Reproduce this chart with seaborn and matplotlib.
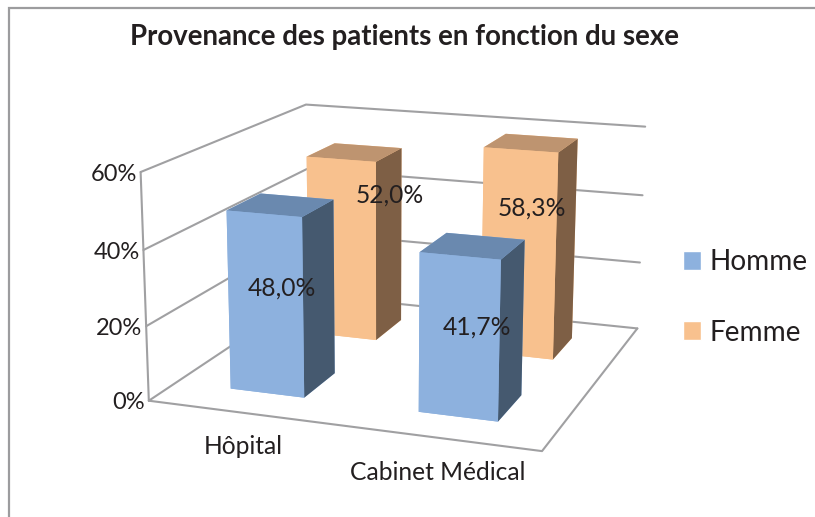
import numpy as np
import pandas as pd
import matplotlib
matplotlib.use("Agg")
import matplotlib.pyplot as plt
from matplotlib.patches import Patch, Rectangle
import seaborn as sns

categories = ["Hôpital", "Cabinet Médical"]
series = ["Homme", "Femme"]
homme = [48.0, 41.7]
femme = [52.0, 58.3]
z_ticks = [0, 20, 40, 60]

front = sns.color_palette(["#8DB1DE", "#F8C18E"])
top = sns.color_palette(["#6A89AF", "#BE9470"])
side = sns.color_palette(["#45596F", "#7E5F45"])
grid_color = "#A0A0A2"
text_color = "#231F20"

sns.set_theme(style="white")
plt.rcParams['font.family'] = ['Lato', 'DejaVu Sans']

df = pd.DataFrame({"categorie": categories, "Homme": homme, "Femme": femme})
df = df.melt(id_vars="categorie", var_name="sexe", value_name="pct")

fig = plt.figure(figsize=(8.15, 5.17), dpi=100)
ax = fig.add_axes([114.2 / 815, -35.12 / 517, 575.26 / 815, 575.26 / 517],
                  projection='3d', computed_zorder=False)
ax.set_xlim(0, 2)
ax.set_ylim(0, 2)
ax.set_zlim(0, 60)
ax.view_init(14.6855, -70.601, -0.2381)
ax.set_proj_type('persp', focal_length=0.5604)
ax.set_box_aspect((1.7414, 1.7661, 1))
ax.set_axis_off()
ax.xaxis.set_visible(False)
ax.yaxis.set_visible(False)
ax.zaxis.set_visible(False)

# walls and floor
for t in z_ticks:
    ax.plot([0, 0, 2], [0, 2, 2], [t, t, t], color=grid_color, lw=1.5, zorder=1)
ax.plot([0, 0], [0, 0], [0, 60], color=grid_color, lw=1.5, zorder=1)
ax.plot([0, 2, 2], [0, 0, 2], [0, 0, 0], color=grid_color, lw=1.5, zorder=1)

# where each value label sits (x shift, height), by (category, series)
label_spot = {(0, 0): (0.0, 25.6), (1, 0): (0.025, 20.6),
              (0, 1): (0.205, 40.3), (1, 1): (0.01, 40.0)}

width = 0.4
for _, row in df.iterrows():
    i = categories.index(row["categorie"])
    j = series.index(row["sexe"])
    x0 = i + 0.5 - width / 2
    y0 = j + 0.5 - width / 2
    # face order of bar3d: bottom, top, front, back, left, right
    cols = [front[j], top[j], front[j], front[j], front[j], side[j]]
    ax.bar3d(x0, y0, 0, width, width, row["pct"], color=cols, shade=False,
             edgecolor='none', zorder=3 - j)
    dx, lz = label_spot[(i, j)]
    ax.text(i + 0.5 + dx, j + 0.5, lz, f"{row['pct']:.1f}%".replace(".", ","),
            ha='center', va='center', fontsize=17.7, color=text_color, zorder=10)

for t in z_ticks:
    ax.text(-0.02, 0, t - 0.7, f"{t}%", ha='right', va='center', fontsize=17, color=text_color, zorder=10)

label_pos = [(0.70, -0.41), (1.637, -0.40)]
for name, (lx, ly) in zip(categories, label_pos):
    ax.text(lx, ly, 0, name, ha='center', va='center', fontsize=17.7, color=text_color, zorder=10)

fig.text(405 / 815, 1 - 37 / 517, "Provenance des patients en fonction du sexe",
         ha='center', va='center', fontsize=19.9, fontweight='bold', color=text_color)

handles = [Patch(facecolor=front[0], label=series[0]), Patch(facecolor=front[1], label=series[1])]
fig.legend(handles=handles, loc='center left', bbox_to_anchor=(683 / 815, 1 - 297.5 / 517), frameon=False,
           fontsize=20.2, labelcolor=text_color, handlelength=0.65, handleheight=0.65,
           handletextpad=0.3, labelspacing=1.57, borderpad=0, borderaxespad=0)

# cadre du graphique, coupe a droite et en bas
fig.add_artist(Rectangle((9 / 815, -0.1), 1.2, 1.1 - 8 / 517, transform=fig.transFigure,
                         fill=False, edgecolor="#9C9C9E", lw=1.6))

fig.savefig("out.png", dpi=100)
